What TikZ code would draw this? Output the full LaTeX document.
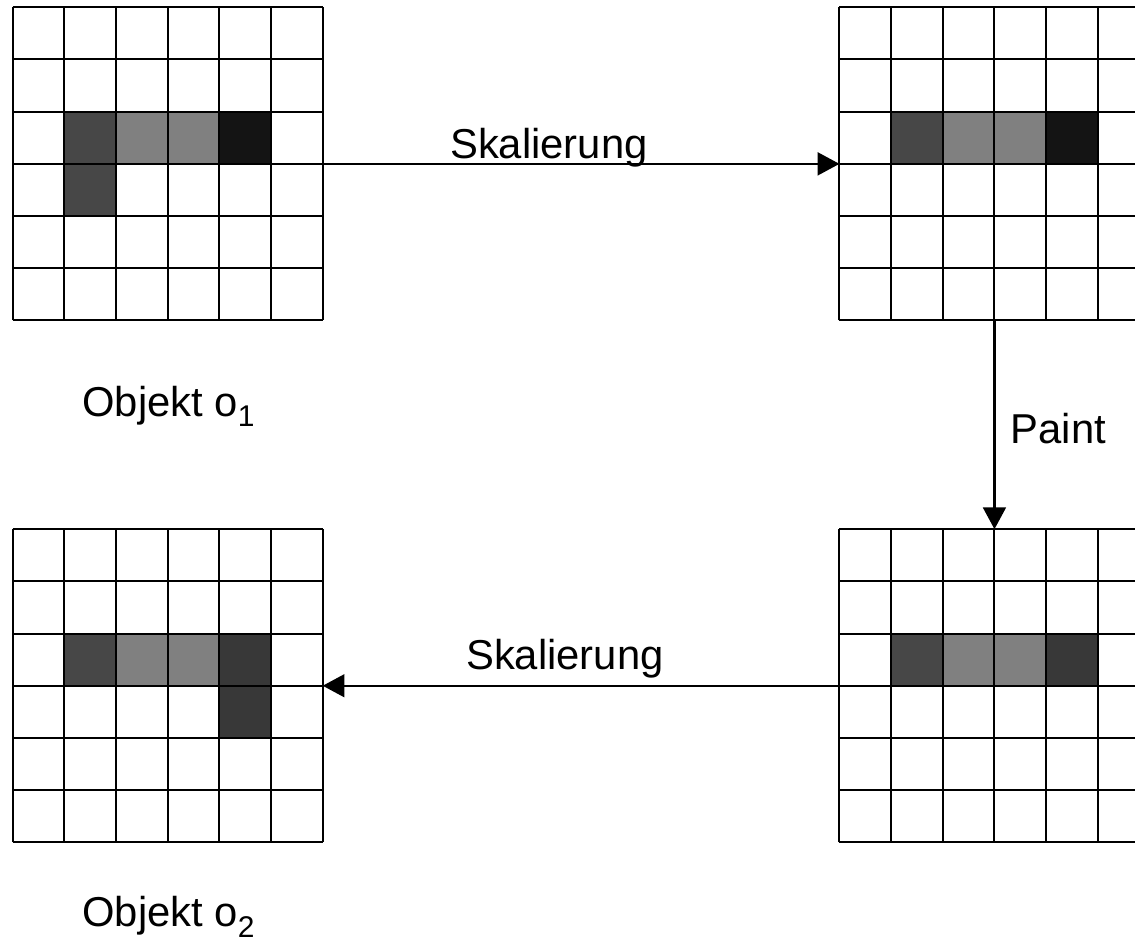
\documentclass[tikz,border=0pt]{standalone}
\usepackage{fontspec}
\setmainfont{Liberation Sans}
\usetikzlibrary{arrows.meta}

\colorlet{pixdark}{black!72}
\colorlet{pixmid}{black!50}
\colorlet{pixblack}{black!92}
\colorlet{pixdeep}{black!78}

\tikzset{
	gridline/.style={line width=1.1pt},
	pixgrid/.style={minimum width=6cm, minimum height=6.06cm, inner sep=0, outer sep=0},
	flow/.style={line width=1.3pt, -{Triangle[length=0.42cm, width=0.44cm]}},
	lbl/.style={anchor=base west, inner sep=0, font=\fontsize{23}{28}\selectfont},
}
\def\sub#1{\raisebox{-0.25em}{\fontsize{16.5}{18}\selectfont #1}}

\begin{document}
\begin{tikzpicture}[x=1cm, y=1.01cm]
		%%%%% START %%%%%
		\useasboundingbox (-0.246, -11.94) rectangle (21.72, 6.14);
		\clip (-0.246, -11.94) rectangle (21.72, 6.14);
		
		% frames of the four pixel grids
		\node[pixgrid] (src) at (3, 3) {};
		\node[pixgrid] (scaled) at (19, 3) {};
		\node[pixgrid] (painted) at (19, -7) {};
		\node[pixgrid] (dst) at (3, -7) {};
		
		% object o1
		\fill[pixdark] (1, 3) rectangle (2, 4);
		\fill[pixmid] (2, 3) rectangle (4, 4);
		\fill[pixblack] (4, 3) rectangle (5, 4);
		\fill[pixdark] (1, 2) rectangle (2, 3);
		\draw[gridline] (0, 0) grid[step=1] (6, 6);
		
		% scaled copy
		\fill[pixdark] (17, 3) rectangle (18, 4);
		\fill[pixmid] (18, 3) rectangle (20, 4);
		\fill[pixblack] (20, 3) rectangle (21, 4);
		\draw[gridline] (16, 0) grid[step=1] (22, 6);
		
		% after paint
		\fill[pixdark] (17, -7) rectangle (18, -6);
		\fill[pixmid] (18, -7) rectangle (20, -6);
		\fill[pixdeep] (20, -7) rectangle (21, -6);
		\draw[gridline] (16, -10) grid[step=1] (22, -4);
		
		% object o2
		\fill[pixdark] (1, -7) rectangle (2, -6);
		\fill[pixmid] (2, -7) rectangle (4, -6);
		\fill[pixdeep] (4, -7) rectangle (5, -6);
		\fill[pixdeep] (4, -8) rectangle (5, -7);
		\draw[gridline] (0, -10) grid[step=1] (6, -4);
		
		% steps
		\draw[flow] (src) -- (scaled);
		\draw[flow] (scaled) -- (painted);
		\draw[flow] (painted) -- (dst);
		
		\node[lbl] (scale1) at (8.46, 3.10) {Skalierung};
		\node[lbl] (paint) at (19.31, -2.36) {Paint};
		\node[lbl] (scale2) at (8.77, -6.69) {Skalierung};
		\node[lbl] (name1) at (1.34, -1.84) {Objekt o\sub{1}};
		\node[lbl] (name2) at (1.34, -11.62) {Objekt o\sub{2}};
		
		%%%%% END %%%%%
\end{tikzpicture}
\end{document}
